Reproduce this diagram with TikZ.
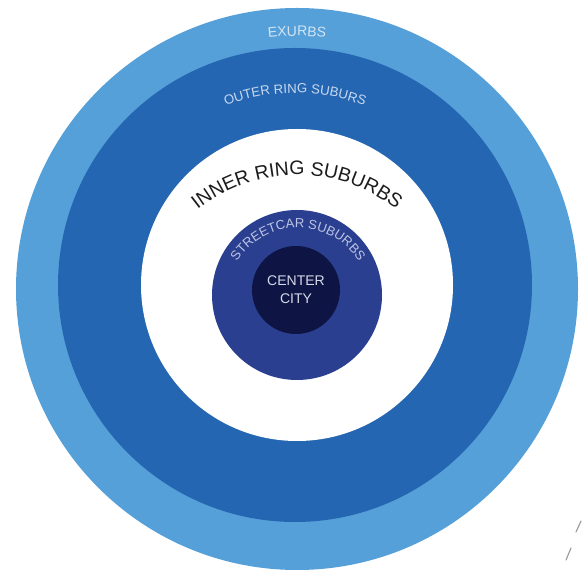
\documentclass[tikz,border=0pt]{standalone}
\usepackage{fontspec}
\setmainfont{Liberation Sans}
\usetikzlibrary{decorations.text}

\definecolor{exurbblue}{HTML}{56A0D9}
\definecolor{outerblue}{HTML}{2566B2}
\definecolor{streetblue}{HTML}{2A3F8F}
\definecolor{corenavy}{HTML}{0E1545}
\definecolor{exurbtext}{HTML}{D3E5F5}
\definecolor{outertext}{HTML}{C8D9F0}
\definecolor{innertext}{HTML}{1C1C1C}
\definecolor{streettext}{HTML}{BCC4E4}
\definecolor{coretext}{HTML}{D6DAE8}

\tikzset{
  ring/.style={draw=none},
  arclabel/.style={decorate, decoration={text along path, text align=center}},
  tick/.style={draw=gray!80, line width=1.1pt, line cap=round}
}

\begin{document}
\begin{tikzpicture}[x=1pt, y=1pt]
  \useasboundingbox (0,0) rectangle (583,573);

  % concentric zones, outermost first
  \fill[exurbblue]  (297,284) circle[radius=281];
  \fill[outerblue]  (295,288) circle[radius=237];
  \fill[white]      (297,288) circle[radius=156];
  \fill[streetblue] (297,278) circle[radius=85];
  \fill[corenavy]   (296,283) circle[radius=44];

  % curved zone labels
  \path[arclabel, decoration={text={|\fontsize{14}{14}\selectfont\color{exurbtext}|EXURBS}}]
    (297,284) ++(110:253) arc[start angle=110, end angle=70, radius=253];
  \path[arclabel, decoration={text={|\fontsize{13.2}{13.2}\selectfont\color{outertext}|OUTER RING SUBURS}}]
    (295,288) ++(130:192) arc[start angle=130, end angle=50, radius=192];
  \path[arclabel, decoration={text={|\fontsize{19.5}{19.5}\selectfont\color{innertext}|INNER RING SUBURBS}}]
    (297,238) ++(140:160) arc[start angle=140, end angle=40, radius=160];
  \path[arclabel, decoration={text={|\fontsize{13}{13}\selectfont\color{streettext}|STREETCAR SUBURBS}}]
    (298,273) ++(170:72) arc[start angle=170, end angle=10, radius=72];

  % core label
  \node[align=center, text=coretext, font=\fontsize{14}{18}\selectfont] (core) at (296,283) {CENTER\\CITY};

  % small marks at the lower right
  \draw[tick] (576,41) -- (581,52);
  \draw[tick] (566,13) -- (571,25);
\end{tikzpicture}
\end{document}
